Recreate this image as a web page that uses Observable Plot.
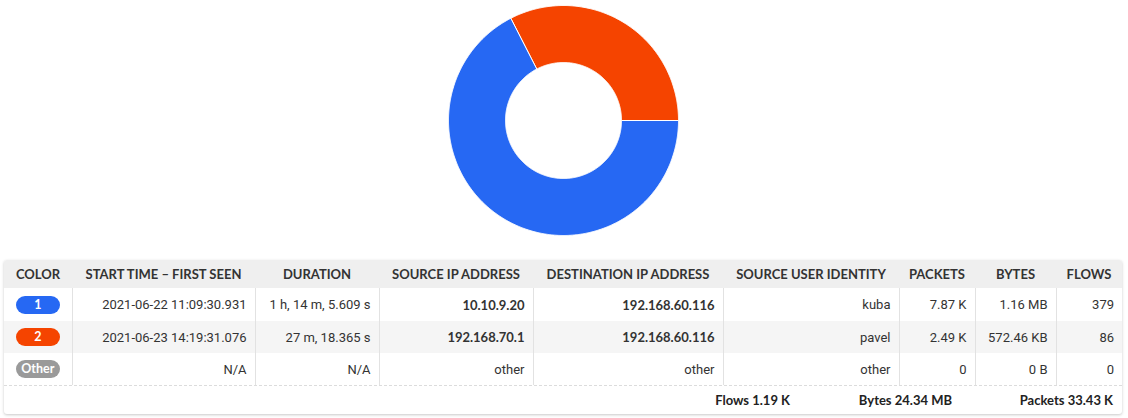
<!DOCTYPE html>
<html>
<head>
<meta charset="utf-8">
<script src="https://cdn.jsdelivr.net/npm/d3@7"></script>
<script src="https://cdn.jsdelivr.net/npm/@observablehq/plot@0.6"></script>
<style>
  html, body { margin: 0; padding: 0; background: #fff; }
  body { width: 1128px; height: 418px; overflow: hidden; font-family: Lato, "Open Sans", sans-serif; color: #333; }
  #chart svg { display: block; }
  .wrap { position: relative; margin: 20px 0 0 4px; width: 1118px; background: #fff;
          box-shadow: 0 1px 3px rgba(0,0,0,0.22); border-radius: 3px; overflow: hidden; }
  table { border-collapse: collapse; table-layout: fixed; width: 1118px; font-size: 13px; }
  th { background: #efefef; font-weight: 700; height: 28px; padding: 0; text-align: center; color: #333; letter-spacing: 0; font-family: Lato, sans-serif; }
  td { height: 32px; padding: 0 8px 0 0; text-align: right; border-left: 1px solid #e2e2e2; white-space: nowrap; color: #333; font-family: Roboto, sans-serif; }
  td:first-child { border-left: none; text-align: center; padding: 0; }
  tr.alt td { background: #f5f5f5; }
  tr.first td { height: 33px; }
  td.b { font-weight: 700; font-family: Lato, sans-serif; }
  .pill { display: inline-block; width: 44px; height: 18px; line-height: 18px; border-radius: 9px; color: #fff;
          font-weight: 700; font-size: 12.5px; text-align: center; vertical-align: middle; font-family: Lato, sans-serif; }
  .foot { position: relative; height: 28px; border-top: 1px dashed #dcdcdc; font-size: 13px; font-weight: 700; color: #222; }
  .foot span { position: absolute; top: 6px; white-space: nowrap; }
</style>
</head>
<body>
<div id="chart"></div>
<div class="wrap">
  <table id="tbl"></table>
  <div class="foot" id="foot"></div>
</div>
<script>
// ---- data ----
const labels = ["1", "2", "Other"];
const colors = ["#2668f3", "#f54400", "#9a9a9a"];
const startTimes = ["2021-06-22 11:09:30.931", "2021-06-23 14:19:31.076", "N/A"];
const durations = ["1 h, 14 m, 5.609 s", "27 m, 18.365 s", "N/A"];
const sourceIPs = ["10.10.9.20", "192.168.70.1", "other"];
const destIPs = ["192.168.60.116", "192.168.60.116", "other"];
const users = ["kuba", "pavel", "other"];
const packetLabels = ["7.87 K", "2.49 K", "0"];
const byteLabels = ["1.16 MB", "572.46 KB", "0 B"];
const bytesKB = [1187.84, 572.46, 0];
const flows = [379, 86, 0];
const headers = ["COLOR", "START TIME – FIRST SEEN", "DURATION", "SOURCE IP ADDRESS", "DESTINATION IP ADDRESS", "SOURCE USER IDENTITY", "PACKETS", "BYTES", "FLOWS"];
const totalLabels = ["Flows 1.19 K", "Bytes 24.34 MB", "Packets 33.43 K"];

// ---- donut slices as planar polygons (unit circle, y down) ----
const innerRatio = 58 / 115;
const rows = labels.map((label, i) => ({label, value: bytesKB[i]}));
const arcs = d3.pie().value(d => d.value).sort(null)
  .startAngle(Math.PI / 2).endAngle(Math.PI / 2 + 2 * Math.PI)(rows.filter(d => d.value > 0));
function ringPolygon(a0, a1) {
  const n = Math.max(2, Math.ceil((a1 - a0) / (Math.PI / 360)));
  const outer = d3.range(n + 1).map(k => { const a = a0 + (a1 - a0) * k / n; return [Math.sin(a), -Math.cos(a)]; });
  const inner = d3.range(n + 1).map(k => { const a = a1 - (a1 - a0) * k / n; return [innerRatio * Math.sin(a), -innerRatio * Math.cos(a)]; });
  const ring = outer.concat(inner); ring.push(ring[0]);
  return ring;
}
const features = arcs.map(a => ({
  type: "Feature",
  properties: {label: a.data.label},
  geometry: {type: "Polygon", coordinates: [ringPolygon(a.startAngle, a.endAngle)]}
}));
const frame = {type: "Polygon", coordinates: [[[-1, -1], [1, -1], [1, 1], [-1, 1], [-1, -1]]]};

const chart = Plot.plot({
  width: 1128,
  height: 240,
  marginTop: 5, marginBottom: 5, marginLeft: 0, marginRight: 2,
  projection: {type: "identity", domain: frame},
  color: {domain: labels, range: colors},
  marks: [
    Plot.geo(features, {fill: d => d.properties.label, stroke: "#fff", strokeWidth: 1})
  ]
});
document.getElementById("chart").appendChild(chart);

// ---- table ----
const colWidths = [68, 183, 124, 154, 190, 176, 76, 81, 66];
const tbl = document.getElementById("tbl");
const cg = document.createElement("colgroup");
colWidths.forEach(w => { const c = document.createElement("col"); c.style.width = w + "px"; cg.appendChild(c); });
tbl.appendChild(cg);
const thead = document.createElement("tr");
headers.forEach(h => { const th = document.createElement("th"); th.textContent = h; thead.appendChild(th); });
tbl.appendChild(thead);
labels.forEach((label, i) => {
  const tr = document.createElement("tr");
  if (i === 0) tr.className = "first";
  if (i === 1) tr.className = "alt";
  const c0 = document.createElement("td");
  const pill = document.createElement("span");
  pill.className = "pill"; pill.style.background = colors[i]; pill.textContent = label;
  c0.appendChild(pill); tr.appendChild(c0);
  const vals = [startTimes[i], durations[i], sourceIPs[i], destIPs[i], users[i], packetLabels[i], byteLabels[i], String(flows[i])];
  vals.forEach((v, j) => {
    const td = document.createElement("td");
    td.textContent = v;
    if ((j === 2 || j === 3) && v !== "other") td.className = "b";
    tr.appendChild(td);
  });
  tbl.appendChild(tr);
});
const foot = document.getElementById("foot");
const rights = [332, 170, 9];
totalLabels.forEach((t, i) => {
  const s = document.createElement("span"); s.textContent = t; s.style.right = rights[i] + "px"; foot.appendChild(s);
});
</script>
</body>
</html>
